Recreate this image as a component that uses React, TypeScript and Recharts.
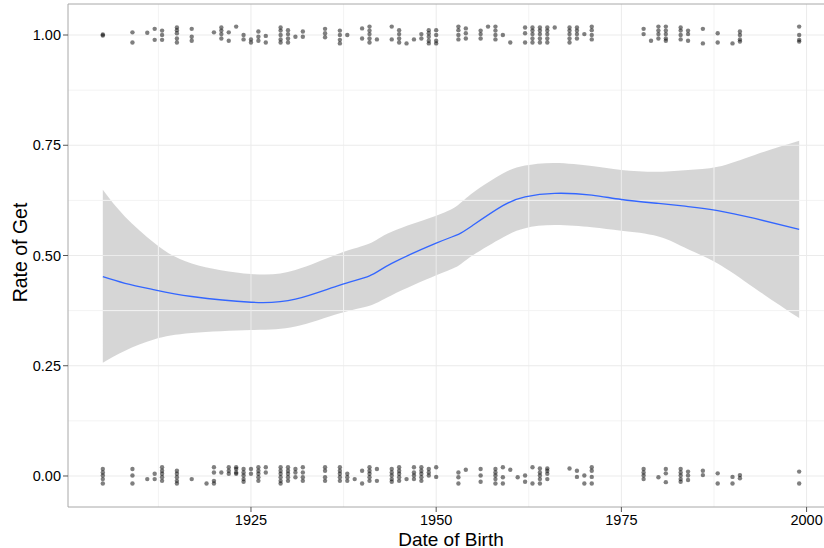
import React from "react";
import {
  ComposedChart,
  XAxis,
  YAxis,
  Scatter,
  Line,
  Area,
  ReferenceLine,
} from "recharts";

// axis ticks + ggplot style minor grid
const xTicks = [1925, 1950, 1975, 2000];
const xMinor = [1912.5, 1937.5, 1962.5, 1987.5];
const yTicks = [0, 0.25, 0.5, 0.75, 1];
const yMinor = [0.125, 0.375, 0.625, 0.875];
const yTickLabels = ["0.00", "0.25", "0.50", "0.75", "1.00"];

// loess fit and its confidence band
const smoothYears = [1905, 1908, 1912, 1917, 1925, 1931, 1937, 1941, 1944, 1950, 1953, 1955, 1959, 1962, 1966, 1971, 1975, 1980, 1984, 1988, 1993, 1999];
const smoothFit = [0.452, 0.437, 0.422, 0.407, 0.394, 0.401, 0.433, 0.454, 0.482, 0.528, 0.548, 0.569, 0.613, 0.633, 0.641, 0.637, 0.627, 0.618, 0.611, 0.602, 0.584, 0.559];
const smoothLow = [0.257, 0.284, 0.31, 0.324, 0.331, 0.339, 0.369, 0.386, 0.41, 0.455, 0.477, 0.501, 0.541, 0.562, 0.569, 0.564, 0.556, 0.543, 0.514, 0.482, 0.426, 0.358];
const smoothHigh = [0.649, 0.588, 0.528, 0.482, 0.458, 0.467, 0.505, 0.527, 0.554, 0.59, 0.615, 0.643, 0.686, 0.704, 0.71, 0.703, 0.694, 0.69, 0.694, 0.701, 0.728, 0.76];

// observations with rate 1 (jittered vertically)
const getYears = [1905, 1909, 1911, 1912, 1913, 1915, 1917, 1920, 1921, 1922, 1923, 1924, 1925, 1926, 1927, 1929, 1930, 1931, 1932, 1935, 1937, 1938, 1940, 1941, 1942, 1944, 1945, 1946, 1947, 1948, 1949, 1950, 1953, 1954, 1956, 1957, 1958, 1959, 1960, 1962, 1963, 1964, 1965, 1966, 1968, 1969, 1970, 1971, 1978, 1979, 1980, 1981, 1983, 1984, 1986, 1988, 1990, 1991, 1999];
const getJitter = [
  [0.001, -0.001], [0.006, -0.017], [0.005], [0.014, -0.011], [0.01, 0, -0.011],
  [0.017, 0.011, 0.004, -0.008, -0.017], [0.014, -0.004, -0.013], [0.006], [0.017, 0.01, 0.002, -0.008], [0.006, -0.013],
  [0.019], [0, -0.01], [-0.01, -0.017], [0.008, -0.004, -0.013], [-0.002, -0.017],
  [0.017, 0.01, 0, -0.01, -0.017], [0.011, 0.002, -0.008, -0.017], [-0.004], [0.008, -0.004], [0.014, 0.004, -0.005],
  [0.01, 0, -0.011, -0.019], [0], [0.015, -0.008], [0.019, 0.01, 0.002, -0.008, -0.017], [-0.01],
  [0.019, -0.01], [0.011, 0.002, -0.008, -0.017], [-0.019], [-0.01], [0.002, -0.008],
  [0.011, 0.004, -0.004, -0.013, -0.019], [0.011, 0, -0.013, -0.019], [0.019, 0.011, 0, -0.01], [0.015, 0.004, -0.008], [0.01, 0.002, -0.008],
  [0.019], [0.019, 0.01, 0, -0.01], [0], [-0.017], [0.017, 0.004, -0.017],
  [0.017, 0.01, 0.002, -0.008, -0.017], [0.017, 0.01, 0.002, -0.008, -0.017], [0.017, 0.01, 0.002, -0.008, -0.017], [0.017], [0.017, 0.01, 0.002, -0.008, -0.017],
  [0.017, 0.01, 0.002, -0.008], [0.002], [0.019, 0.011, 0, -0.01], [0.014, 0.002], [-0.013],
  [0.019, 0.01, 0.002, -0.008], [0.019, 0.01, 0.002, -0.008, -0.013], [0.017, 0.01, 0, -0.01], [0.01, 0.002, -0.013], [0.014, -0.019],
  [0.004, -0.017], [-0.019], [0.008, 0, -0.01, -0.015], [0.019, 0, -0.011, -0.015],
];

// observations with rate 0 (jittered vertically)
const missYears = [1905, 1909, 1911, 1912, 1913, 1915, 1917, 1919, 1920, 1921, 1922, 1923, 1924, 1925, 1926, 1927, 1929, 1930, 1931, 1932, 1935, 1937, 1938, 1939, 1940, 1941, 1942, 1944, 1945, 1946, 1947, 1948, 1949, 1950, 1953, 1954, 1956, 1958, 1959, 1960, 1961, 1962, 1963, 1964, 1965, 1968, 1969, 1970, 1971, 1978, 1980, 1981, 1983, 1984, 1986, 1988, 1990, 1991, 1999];
const missJitter = [
  [0.016, 0.008, 0.001, -0.007, -0.017], [0.016, 0.001, -0.017], [-0.007], [0.005, -0.007], [0.02, 0.012, 0.005, -0.003, -0.011],
  [0.012, 0.005, -0.003, -0.011, -0.017], [-0.007], [-0.017], [0.02, 0.008, -0.011, -0.017], [0.008],
  [0.02, 0.012, 0.005], [0.02, 0.016, 0.008, 0.005], [0.016, 0.008, 0.001, -0.007, -0.013], [0.016, 0.005], [0.02, 0.012, 0.005, -0.003, -0.011],
  [0.02, 0.008], [0.02, 0.012, 0.005, -0.003, -0.011, -0.017], [0.02, 0.012, 0.005, -0.003, -0.011], [0.016, 0.008, -0.003], [0.02, 0.008, -0.003, -0.011],
  [0.02, 0.012, -0.003, -0.011], [0.02, 0.012, 0.005, -0.003, -0.011], [0.005, -0.003, -0.011], [-0.007], [0.012, -0.017],
  [0.02, 0.012, 0.005, -0.003, -0.011], [0.016, -0.011], [0.016, 0.008, 0.001, -0.007, -0.013], [0.02, 0.012, 0.005, -0.003, -0.011], [-0.007],
  [0.02, 0.008, 0.001, -0.007], [0.02, 0.012, 0.005, -0.003, -0.011], [0.016, 0.008, 0.001], [0.02, -0.002], [0.008, -0.003, -0.017],
  [0.014], [0.016, 0.001, -0.013], [0.016, 0.008, 0.001, -0.007, -0.017], [0.02, -0.003, -0.017], [0.014],
  [-0.003], [0.001, -0.013], [0.02, -0.017], [0.017, 0.008, 0.001, -0.007, -0.017], [0.017, 0.012, 0.005, -0.007],
  [0.017], [0.012, -0.002], [0.001, -0.017], [0.02, 0.012, -0.002, -0.017], [0.016, 0.008, 0.001, -0.007],
  [-0.003], [0.016, 0.006, -0.014], [0.016, 0.008, 0.001, -0.007, -0.013], [0.01, 0.001, -0.009], [0.012, 0.002],
  [0.006, -0.017], [-0.002, -0.017], [0.002, -0.005], [0.01, -0.017],
];

const smoothData = smoothYears.map((year, i) => ({
  year,
  fit: smoothFit[i],
  band: [smoothLow[i], smoothHigh[i]],
}));

const pointData = [
  ...getYears.flatMap((year, i) => getJitter[i].map((j) => ({ year, rate: 1 + j }))),
  ...missYears.flatMap((year, i) => missJitter[i].map((j) => ({ year, rate: j }))),
];

const FONT = "'Liberation Sans', Arial, Helvetica, sans-serif";
const GRID_MAJOR = "#EBEBEB";
const GRID_MINOR = "#F3F3F3";
const BORDER = "#A8A8A8";
const Y_MAX = 1.0703;

const XTick = (props: any) => {
  const { x, y, payload } = props;
  return (
    <text x={x} y={y + 11} textAnchor="middle" fontFamily={FONT} fontSize={14.5} fill="#000">
      {payload.value}
    </text>
  );
};

const YTick = (props: any) => {
  const { x, y, payload } = props;
  const idx = yTicks.indexOf(payload.value);
  return (
    <text x={x} y={y + 5} textAnchor="end" fontFamily={FONT} fontSize={14.5} fill="#000">
      {yTickLabels[idx]}
    </text>
  );
};

const XTitle = (props: any) => {
  const vb = props.viewBox;
  return (
    <text x={vb.x + vb.width / 2} y={vb.y + 38.5} textAnchor="middle" fontFamily={FONT} fontSize={19} fill="#000">
      Date of Birth
    </text>
  );
};

const YTitle = (props: any) => {
  const vb = props.viewBox;
  const cy = vb.y + vb.height / 2 - 3;
  return (
    <text
      x={27}
      y={cy}
      transform={`rotate(-90, 27, ${cy})`}
      textAnchor="middle"
      fontFamily={FONT}
      fontSize={19.5}
      fill="#000"
    >
      Rate of Get
    </text>
  );
};

const Dot = (props: any) => (
  <circle cx={props.cx} cy={props.cy} r={2.2} fill="#000" fillOpacity={0.5} />
);

export default function App() {
  return (
    <div
      style={{
        position: "fixed",
        left: 0,
        top: 0,
        width: 824,
        height: 548,
        overflow: "hidden",
        background: "#fff",
      }}
    >
      <ComposedChart
        width={840}
        height={548}
        data={smoothData}
        margin={{ top: 4, right: 6, bottom: 0, left: 0 }}
      >
        {xMinor.map((v) => (
          <ReferenceLine key={`xm${v}`} x={v} stroke={GRID_MINOR} strokeWidth={1} />
        ))}
        {yMinor.map((v) => (
          <ReferenceLine key={`ym${v}`} y={v} stroke={GRID_MINOR} strokeWidth={1} />
        ))}
        {xTicks.map((v) => (
          <ReferenceLine key={`xM${v}`} x={v} stroke={GRID_MAJOR} strokeWidth={1} />
        ))}
        {yTicks.map((v) => (
          <ReferenceLine key={`yM${v}`} y={v} stroke={GRID_MAJOR} strokeWidth={1} />
        ))}
        <ReferenceLine y={Y_MAX} stroke={BORDER} strokeWidth={1} ifOverflow="visible" />

        <XAxis
          dataKey="year"
          type="number"
          domain={[1900.3, 2003.7]}
          allowDataOverflow
          ticks={xTicks}
          height={41}
          tickSize={5}
          tickMargin={2}
          axisLine={{ stroke: BORDER, strokeWidth: 1 }}
          tickLine={{ stroke: "#555", strokeWidth: 1 }}
          tick={<XTick />}
          label={(p: any) => <XTitle {...p} />}
        />
        <YAxis
          type="number"
          domain={[-0.0703, Y_MAX]}
          allowDataOverflow
          ticks={yTicks}
          width={68}
          tickSize={5}
          tickMargin={2}
          axisLine={{ stroke: BORDER, strokeWidth: 1 }}
          tickLine={{ stroke: "#555", strokeWidth: 1 }}
          tick={<YTick />}
          label={(p: any) => <YTitle {...p} />}
        />

        <Scatter data={pointData} dataKey="rate" shape={<Dot />} isAnimationActive={false} />
        <Area
          type="natural"
          dataKey="band"
          stroke="none"
          fill="#999999"
          fillOpacity={0.4}
          isAnimationActive={false}
          activeDot={false}
        />
        <Line
          type="natural"
          dataKey="fit"
          stroke="#3366FF"
          strokeWidth={1.3}
          dot={false}
          activeDot={false}
          isAnimationActive={false}
        />
      </ComposedChart>
    </div>
  );
}
